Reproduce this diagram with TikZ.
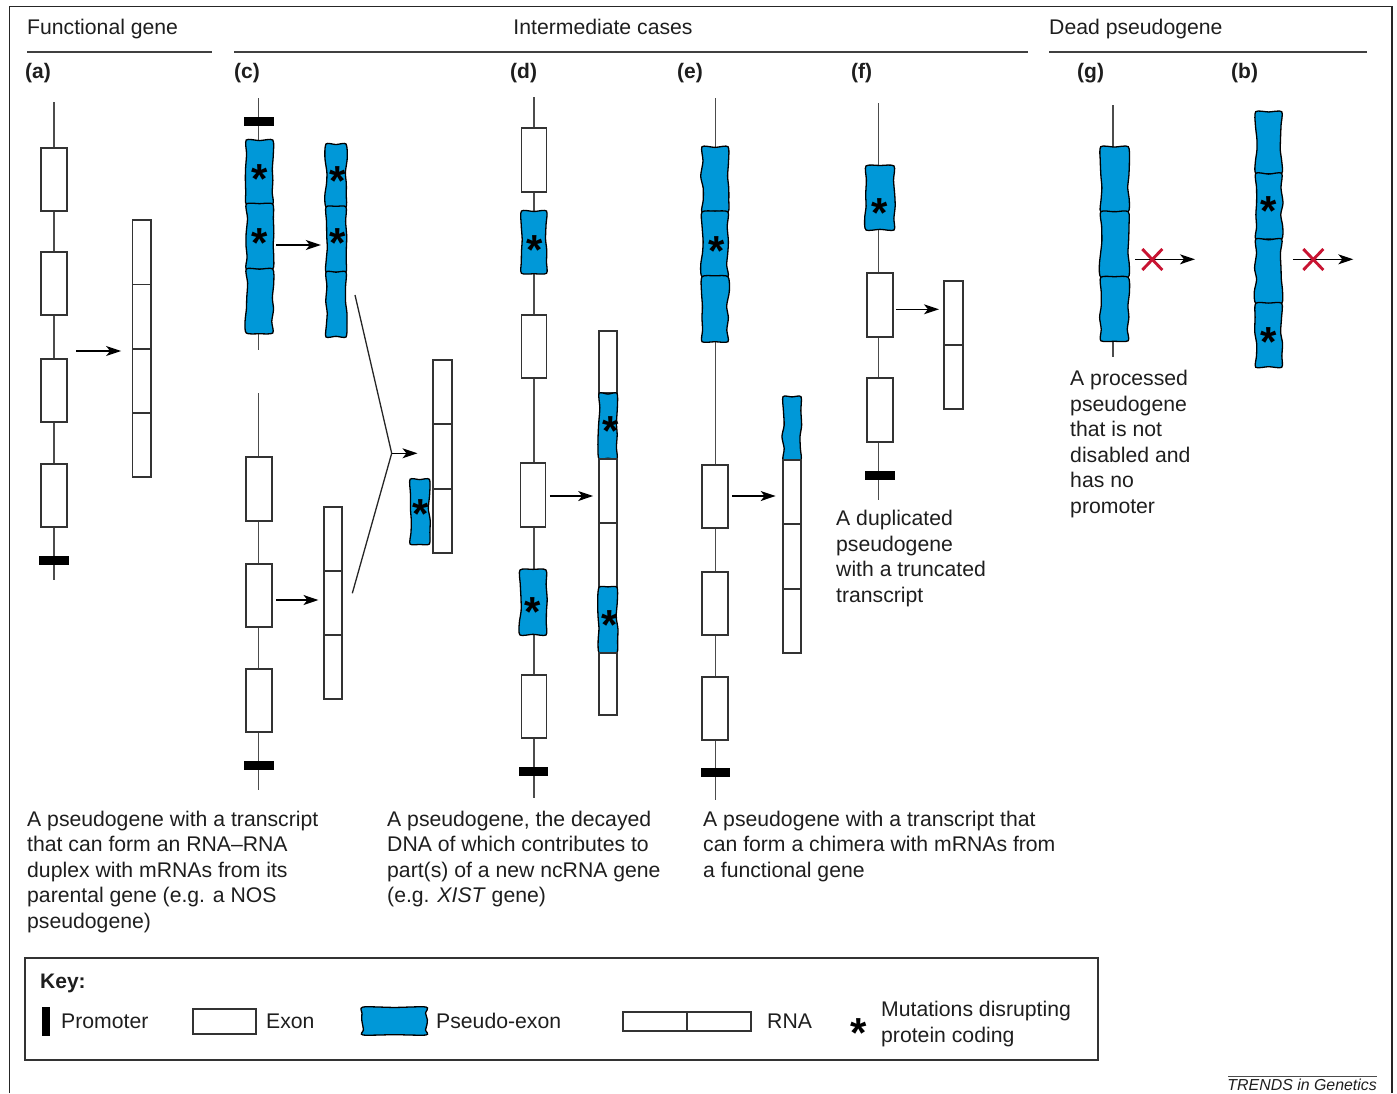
\documentclass[tikz,border=0pt]{standalone}
\usepackage{fontspec}
\setmainfont{Liberation Sans}
\usetikzlibrary{arrows.meta}
\definecolor{pblue}{RGB}{0,152,216}
\definecolor{xred}{RGB}{200,20,50}
\definecolor{ink}{RGB}{30,30,30}
\newcommand\gseg[6]{\node[#1, minimum width=#4, minimum height={#6-#5}] (#2) at (#3,{(#5+#6)/2}) {};}
\newcommand\pseg[5]{%
 \node[inner sep=0, minimum width=#3, minimum height={#5-#4}] (#1) at (#2,{(#4+#5)/2}) {};
 \pgfmathsetmacro\pqwl{#2-#3/2}\pgfmathsetmacro\pqwr{#2+#3/2}%
 \pgfmathsetmacro\pqya{#4}\pgfmathsetmacro\pqyf{#5}%
 \pgfmathsetmacro\pqyb{#4+(#5-#4)*0.22}\pgfmathsetmacro\pqyc{#4+(#5-#4)*0.45}%
 \pgfmathsetmacro\pqyd{#4+(#5-#4)*0.63}\pgfmathsetmacro\pqye{#4+(#5-#4)*0.82}%
 \pgfmathsetmacro\pqta{#4+0.9*rand}\pgfmathsetmacro\pqtb{#5+0.9*rand}%
 \pgfmathsetmacro\pqra{\pqwr+1.4*rand}\pgfmathsetmacro\pqrb{\pqwr+1.4*rand}%
 \pgfmathsetmacro\pqrc{\pqwr+1.4*rand}\pgfmathsetmacro\pqrd{\pqwr+1.4*rand}%
 \pgfmathsetmacro\pqla{\pqwl+1.4*rand}\pgfmathsetmacro\pqlb{\pqwl+1.4*rand}%
 \pgfmathsetmacro\pqlc{\pqwl+1.4*rand}\pgfmathsetmacro\pqld{\pqwl+1.4*rand}%
 \draw[pexs] plot[smooth cycle, tension=0.45] coordinates {(\pqwl,\pqya) (#2,\pqta) (\pqwr,\pqya) (\pqra,\pqyb) (\pqrb,\pqyc) (\pqrc,\pqyd) (\pqrd,\pqye) (\pqwr,\pqyf) (#2,\pqtb) (\pqwl,\pqyf) (\pqld,\pqye) (\pqlc,\pqyd) (\pqlb,\pqyc) (\pqla,\pqyb)};
}
\begin{document}
\pgfmathsetseed{11}
\begin{tikzpicture}[x=1pt,y=-1pt,
  txt/.style={font=\fontsize{21.2}{25.5}\selectfont, text=ink, inner sep=0},
  captext/.style={txt, anchor=north west, align=left},
  lab/.style={font=\fontsize{21}{25}\selectfont\bfseries, text=ink, inner sep=0, anchor=base west},
  gline/.style={draw=black!70, line width=1.4},
  exon/.style={rectangle, draw=black!80, line width=1.7, fill=white, inner sep=0},
  pexs/.style={draw=black, line width=1.3, fill=pblue},
  prom/.style={rectangle, fill=black, inner sep=0, minimum width=30, minimum height=9},
  arr/.style={draw=black, line width=1.3, -{Stealth[length=15pt,width=10pt,inset=4pt]}, shorten <=3.5pt, shorten >=5pt},
  mut/.style={font=\fontsize{42}{42}\selectfont\bfseries, inner sep=0, yshift=-6.2pt, text=black},
  nox/.style={draw=xred, line width=2.9},
  hrule/.style={draw=black!75, line width=1.6}
]
\useasboundingbox (0,0) rectangle (1397,1093);
% frame
\draw[line width=1.5, draw=black!85] (9.5,1093) -- (9.5,6.5) -- (1392,6.5) -- (1392,1093);

% headers
\node[txt, anchor=base west] (hf) at (27,34) {Functional gene};
\node[txt, anchor=base] (hi) at (603,34) {Intermediate cases};
\node[txt, anchor=base west] (hd) at (1049,34) {Dead pseudogene};
\draw[hrule] (27,52) -- (212,52);
\draw[hrule] (234,52) -- (1028,52);
\draw[hrule] (1049,52) -- (1367,52);

\node[lab] (la) at (25,78) {(a)};
\node[lab] (lc) at (234,78) {(c)};
\node[lab] (ld) at (510,78) {(d)};
\node[lab] (le) at (677,78) {(e)};
\node[lab] (lf) at (851,78) {(f)};
\node[lab] (lg) at (1077,78) {(g)};
\node[lab] (lb) at (1231,78) {(b)};

% ---------- panel (a)
\coordinate (at) at (54,102); \coordinate (ab) at (54,580);
\draw[gline] (at) -- (ab);
\gseg{exon}{a1}{54}{26}{148}{211}
\gseg{exon}{a2}{54}{26}{252}{315}
\gseg{exon}{a3}{54}{26}{359}{422}
\gseg{exon}{a4}{54}{26}{464}{527}
\node[prom] (ap) at (54,560.5) {};
\gseg{exon}{ar1}{141.7}{18.5}{220}{284.5}
\gseg{exon}{ar2}{141.7}{18.5}{284.5}{348.7}
\gseg{exon}{ar3}{141.7}{18.5}{348.7}{413}
\gseg{exon}{ar4}{141.7}{18.5}{413}{477}
\draw[arr, shorten <=8.5pt, shorten >=10.5pt] (a3.east |- 0,351) -- (ar3.west |- 0,351);

% ---------- panel (c) upper
\coordinate (cut) at (258.5,98); \coordinate (cub) at (258.5,350);
\draw[gline] (cut) -- (cub);
\node[prom] (cup) at (258.5,121.5) {};
\pseg{cu1}{259.5}{26.5}{140}{204}
\pseg{cu2}{259.5}{26.5}{204}{269}
\pseg{cu3}{259.5}{26.5}{269}{333}
\node[mut] (s1) at (260,173) {*};
\node[mut] (s2) at (260,237) {*};
\pseg{cr1}{336}{20}{144}{207}
\pseg{cr2}{336}{20}{207}{272}
\pseg{cr3}{336}{20}{272}{337}
\node[mut] (s3) at (338,175) {*};
\node[mut] (s4) at (338,237) {*};
\draw[arr] (cu2.east |- 0,245) -- (cr2.west |- 0,245);

% ---------- panel (c) lower
\coordinate (clt) at (258.5,393); \coordinate (clb) at (258.5,790);
\draw[gline] (clt) -- (clb);
\gseg{exon}{cl1}{259}{25.7}{457.3}{520.7}
\gseg{exon}{cl2}{259}{25.7}{564}{627.3}
\gseg{exon}{cl3}{259}{25.7}{669}{732.3}
\node[prom] (clp) at (259,765.5) {};
\gseg{exon}{cs1}{333.3}{18}{506.7}{570.7}
\gseg{exon}{cs2}{333.3}{18}{570.7}{635}
\gseg{exon}{cs3}{333.3}{18}{635}{699}
\draw[arr] (cl2.east |- 0,600) -- (cs2.west |- 0,600);

% merge
\coordinate (cmt) at (355,295); \coordinate (cm) at (391.7,453.3); \coordinate (cmb) at (352.3,593.3);
\draw[draw=black!85, line width=1.3] (cmt) -- (cm) -- (cmb);
\gseg{exon}{m1}{442.5}{18.4}{360}{424}
\gseg{exon}{m2}{442.5}{18.4}{424}{489}
\gseg{exon}{m3}{442.5}{18.4}{489}{553.3}
\pseg{mp}{419.7}{19.3}{479.3}{544}
\node[mut] (s5) at (421,508) {*};
\draw[arr, shorten <=0pt, shorten >=15pt] (cm) -- (m1.west |- cm);

% ---------- panel (d)
\coordinate (dt) at (534,97); \coordinate (db) at (534,798);
\draw[gline] (dt) -- (db);
\gseg{exon}{d1}{534}{25}{128.3}{191.7}
\pseg{d2}{534}{25}{211}{273.3}
\gseg{exon}{d3}{534}{25}{315}{377.7}
\gseg{exon}{d4}{533}{25}{463.3}{526.7}
\pseg{d5}{533}{26}{570}{635}
\gseg{exon}{d6}{534}{25}{675}{738.3}
\node[prom, minimum width=29] (dp) at (533.5,771.5) {};
\node[mut] (s6) at (534.3,244) {*};
\node[mut] (s7) at (532.7,605.7) {*};
\gseg{exon}{dr1}{608}{18}{330.7}{393.3}
\pseg{dr2}{608}{18}{393.3}{459}
\gseg{exon}{dr3}{608}{18}{459}{523.3}
\gseg{exon}{dr4}{608}{18}{523.3}{587.3}
\pseg{dr5}{608}{18}{587.3}{652.7}
\gseg{exon}{dr6}{608}{18}{652.7}{715}
\node[mut] (s8) at (610.5,425) {*};
\node[mut] (s9) at (609.5,619) {*};
\draw[arr] (d4.east |- 0,496) -- (dr3.west |- 0,496);

% ---------- panel (e)
\coordinate (et) at (715.5,98); \coordinate (eb) at (715.5,800);
\draw[gline] (et) -- (eb);
\pseg{e1}{715}{26}{146.7}{212}
\pseg{e2}{715}{26}{212}{276.7}
\pseg{e3}{715}{26}{276.7}{341.7}
\node[mut] (s10) at (716.7,245) {*};
\gseg{exon}{e4}{715}{25.5}{465}{528.3}
\gseg{exon}{e5}{715}{25.5}{571.7}{635}
\gseg{exon}{e6}{715}{25.5}{676.7}{740}
\node[prom, minimum width=29] (ep) at (715,772.8) {};
\pseg{er1}{792}{18}{396.7}{460}
\gseg{exon}{er2}{792}{18}{460}{524.3}
\gseg{exon}{er3}{792}{18}{524.3}{589}
\gseg{exon}{er4}{792}{18}{589}{653.3}
\draw[arr, shorten >=6.5pt] (e4.east |- 0,496) -- (er2.west |- 0,496);

% ---------- panel (f)
\coordinate (ft) at (878.5,103); \coordinate (fb) at (878.5,500);
\draw[gline] (ft) -- (fb);
\pseg{f1}{880}{28}{166}{230}
\node[mut] (s11) at (880,206.7) {*};
\gseg{exon}{f2}{879.7}{26}{273.3}{337.3}
\gseg{exon}{f3}{879.7}{26}{378.3}{441.7}
\node[prom] (fp) at (880,475) {};
\gseg{exon}{fr1}{953.5}{18.4}{280.7}{345}
\gseg{exon}{fr2}{953.5}{18.4}{345}{409}
\draw[arr, shorten <=2.5pt, shorten >=4.5pt] (f2.east |- 0,309.3) -- (fr1.west |- 0,309.3);

% ---------- panel (g)
\coordinate (gt) at (1113,105); \coordinate (gb) at (1113,357);
\draw[gline] (gt) -- (gb);
\pseg{g1}{1114.5}{27.5}{146.7}{211.7}
\pseg{g2}{1114.5}{27.5}{211.7}{277.3}
\pseg{g3}{1114.5}{27.5}{277.3}{340.7}
\coordinate (gend) at (1195,259.3);
\draw[arr, shorten <=7pt, shorten >=0pt] (g2.east |- gend) -- (gend);
\coordinate (gx) at (1152.3,259.5);
\draw[nox] ([shift={(-10,-10.5)}]gx) -- ([shift={(10,10.5)}]gx);
\draw[nox] ([shift={(-10,10.5)}]gx) -- ([shift={(10,-10.5)}]gx);

% ---------- panel (b)
\pseg{b1}{1268.7}{26}{111.7}{173.3}
\pseg{b2}{1268.7}{26}{173.3}{239}
\pseg{b3}{1268.7}{26}{239}{303.3}
\pseg{b4}{1268.7}{26}{303.3}{367.3}
\node[mut] (s12) at (1268.3,205) {*};
\node[mut] (s13) at (1268.3,336) {*};
\coordinate (bend) at (1353.3,259.3);
\draw[arr, shorten <=11pt, shorten >=0pt] (b3.east |- bend) -- (bend);
\coordinate (bx) at (1313.3,259.5);
\draw[nox] ([shift={(-10,-10.5)}]bx) -- ([shift={(10,10.5)}]bx);
\draw[nox] ([shift={(-10,10.5)}]bx) -- ([shift={(10,-10.5)}]bx);

% ---------- captions
\node[captext] (ca) at (27,810.8) {A pseudogene with a transcript\\that can form an RNA–RNA\\duplex with mRNAs from its\\parental gene (e.g. a NOS\\pseudogene)};
\node[captext] (cd) at (387,810.8) {A pseudogene, the decayed\\DNA of which contributes to\\part(s) of a new ncRNA gene\\(e.g. \textit{XIST} gene)};
\node[captext] (ce) at (703,810.8) {A pseudogene with a transcript that\\can form a chimera with mRNAs from\\a functional gene};
\node[captext] (cf) at (836,510.4) {A duplicated\\pseudogene\\with a truncated\\transcript};
\node[captext] (cg) at (1070,370.4) {A processed\\pseudogene\\that is not\\disabled and\\has no\\promoter};

% ---------- key
\draw[line width=1.6, draw=black!80] (25,958) rectangle (1098,1060);
\node[lab] (kk) at (40,988.6) {Key:};
\node[prom, minimum width=8, minimum height=29] (kp) at (46,1021.5) {};
\node[txt, anchor=base west] (kpt) at (61,1028.6) {Promoter};
\node[exon, minimum width=63, minimum height=25] (ke) at (224.5,1021.5) {};
\node[txt, anchor=base west] (ket) at (266,1028.6) {Exon};
\pseg{kx}{394.5}{63}{1007}{1035}
\node[txt, anchor=base west] (kxt) at (436,1028.6) {Pseudo-exon};
\node[exon, minimum width=64, minimum height=19] (kr1) at (655,1021.5) {};
\node[exon, minimum width=64, minimum height=19] (kr2) at (719,1021.5) {};
\node[txt, anchor=base west] (krt) at (767,1028.6) {RNA};
\node[mut] (ks) at (859,1027) {*};
\node[captext] (kst) at (881,1001.4) {Mutations disrupting\\protein coding};

% ---------- credit
\node[font=\fontsize{15.9}{19}\selectfont\itshape, text=ink, inner sep=0, anchor=base east] (cr) at (1377,1090) {TRENDS in Genetics};
\draw[line width=1, draw=black!70] (1228,1076) -- (1377,1076);
\end{tikzpicture}
\end{document}
